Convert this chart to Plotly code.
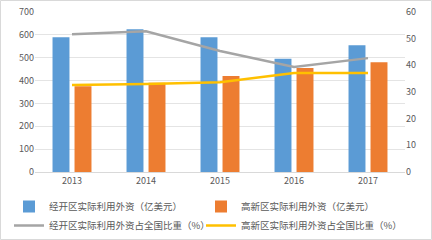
import plotly.graph_objects as go

years = ["2013", "2014", "2015", "2016", "2017"]
jk_fdi = [590, 625, 590, 495, 555]
gx_fdi = [375, 390, 420, 455, 480]
jk_share = [51.7, 52.8, 45.4, 39.4, 42.7]
gx_share = [32.6, 33.0, 33.7, 37.1, 37.1]

names = ["经开区实际利用外资（亿美元）", "高新区实际利用外资（亿美元）",
         "经开区实际利用外资占全国比重（%）", "高新区实际利用外资占全国比重（%）"]

fig = go.Figure()
fig.add_trace(go.Bar(x=years, y=jk_fdi, name=names[0], legend="legend",
                     marker=dict(color="#5B9BD5", line=dict(width=0))))
fig.add_trace(go.Bar(x=years, y=gx_fdi, name=names[1], legend="legend2",
                     marker=dict(color="#ED7D31", line=dict(width=0))))
fig.add_trace(go.Scatter(x=years, y=jk_share, name=names[2], mode="lines", legend="legend",
                         line=dict(color="#A5A5A5", width=2.5), yaxis="y2"))
fig.add_trace(go.Scatter(x=years, y=gx_share, name=names[3], mode="lines", legend="legend2",
                         line=dict(color="#FFC000", width=2.5), yaxis="y2"))

W, H = 432, 240
ml, mr, mt, mb = 35, 27, 12, 68
pw, ph = W - ml - mr, H - mt - mb

leg_common = dict(orientation="v", yanchor="top", xanchor="left",
                  font=dict(size=9.5, color="#595959"), bgcolor="rgba(0,0,0,0)",
                  itemwidth=30, tracegroupgap=0, y=-(192 - (H - mb)) / ph)

fig.update_layout(
    width=W, height=H,
    margin=dict(l=ml, r=mr, t=mt, b=mb, autoexpand=False),
    paper_bgcolor="white", plot_bgcolor="white",
    barmode="group", bargap=0.405, bargroupgap=0.23,
    font=dict(family="Noto Sans CJK SC, Noto Sans, sans-serif", color="#595959", size=9),
    xaxis=dict(showgrid=False, showline=True, linecolor="#D9D9D9", linewidth=1,
               ticks="", tickfont=dict(size=9, color="#595959")),
    yaxis=dict(range=[0, 700], dtick=100, showgrid=True, gridcolor="#E4E4E4",
               zeroline=False, ticks="", tickfont=dict(size=9, color="#595959")),
    yaxis2=dict(range=[0, 60], dtick=10, overlaying="y", side="right", showgrid=False,
                zeroline=False, ticks="", tickfont=dict(size=9, color="#595959")),
    legend=dict(x=(9 - ml) / pw, **leg_common),
    legend2=dict(x=(201 - ml) / pw, **leg_common),
    shapes=[dict(type="rect", xref="paper", yref="paper",
                 x0=(0.5 - ml) / pw, x1=(W - 0.5 - ml) / pw,
                 y0=-(mb - 0.5) / ph, y1=1 + (mt - 0.5) / ph,
                 line=dict(color="#D9D9D9", width=1))],
)

fig.write_html("out.html")
